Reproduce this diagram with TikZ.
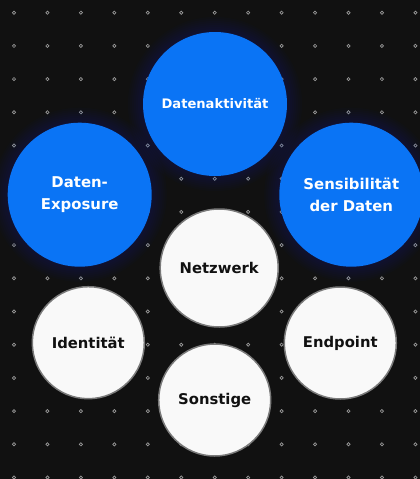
\documentclass[tikz,border=0pt]{standalone}
\usepackage{fontspec}
\setmainfont{DejaVu Sans}
\definecolor{bg}{HTML}{111111}
\definecolor{cblue}{HTML}{0A74F5}
\definecolor{glow}{HTML}{1030B0}
\definecolor{cwhite}{HTML}{F9F9F9}
\definecolor{cgray}{HTML}{7A7A7A}
\definecolor{ctext}{HTML}{111111}
\definecolor{dotc}{HTML}{9A9A9A}
\begin{document}
\begin{tikzpicture}[x=1pt,y=-1pt,
  bluecirc/.style={circle,fill=cblue,minimum size=144pt,inner sep=0pt,text=white,align=center,
    font=\bfseries\fontsize{14.9}{22}\selectfont},
  whitecirc/.style={circle,fill=cwhite,draw=cgray,line width=1.5pt,inner sep=0pt,text=ctext,align=center,
    font=\bfseries\fontsize{14.8}{20}\selectfont},
  griddot/.style={draw=dotc,line width=0.7pt}
]
\fill[bg] (0,0) rectangle (420,479);
\useasboundingbox (0,0) rectangle (420,479);
% dot grid
\foreach \i in {0,...,12}{
  \foreach \j in {0,...,14}{
    \draw[griddot] (14+33.45*\i,12.7+33.2*\j) circle (1.6pt);
  }
}
% centres
\coordinate (cA) at (215,104);
\coordinate (cB) at (79.7,194.7);
\coordinate (cC) at (351.3,194.7);
% glow
\foreach \c in {cA,cB,cC}{
  \foreach \r in {73,75,...,87}{
    \fill[glow,opacity=0.03] (\c) circle (\r pt);
  }
}
\node[bluecirc] (akt) at (cA) {\fontsize{13.1}{16}\selectfont Datenaktivität};
\node[bluecirc] (exp) at (cB) {Daten-\\Exposure};
\node[bluecirc] (sens) at (cC) {Sensibilität\\der Daten};
\node[whitecirc,minimum size=118pt] (netz) at (219.2,268) {Netzwerk};
\node[whitecirc,minimum size=112pt] (ident) at (88.3,342.7) {Identität};
\node[whitecirc,minimum size=112pt] (endp) at (340.3,343) {Endpoint};
\node[whitecirc,minimum size=112pt] (sonst) at (214.7,400) {Sonstige};
\end{tikzpicture}
\end{document}
